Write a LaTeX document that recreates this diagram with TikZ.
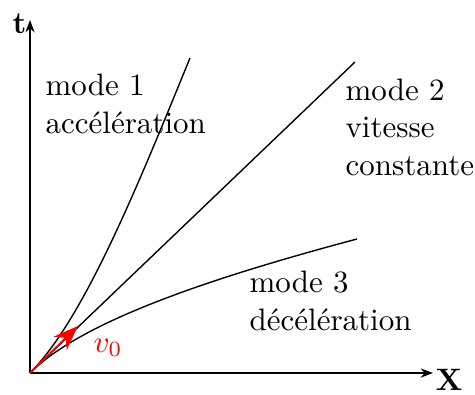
\documentclass[tikz,border=0pt]{standalone}
\usetikzlibrary{arrows.meta}
\begin{document}
\begin{tikzpicture}[x=0.3226pt,y=-0.3226pt,
  axis/.style={line width=0.45pt,-{Stealth[length=4pt,width=3pt]}},
  curve/.style={line width=0.45pt},
  lbl/.style={anchor=base west,inner sep=0pt,align=left}]
\useasboundingbox (0,0) rectangle (475,394);
\coordinate (O) at (30,373);
\coordinate (Ytop) at (30,20);
\coordinate (Xend) at (433,373);
\coordinate (E1) at (190,58);
\coordinate (E2) at (355,62);
\coordinate (E3) at (357,239);
\coordinate (V) at (78,326);
\draw[axis] (O) -- (Ytop);
\draw[axis] (O) -- (Xend);
\draw[curve] (O) .. controls (85,318) and (140,180) .. (E1);
\draw[curve] (O) -- (E2);
\draw[curve] (O) .. controls (75,328) and (180,286) .. (E3);
\draw[red,line width=0.6pt,-{Stealth[length=8pt,width=6pt,inset=2.5pt]}] (O) -- (V);
\node[lbl] (t) at (12,33) {\textbf{t}};
\node[lbl] (x) at (435,390) {\textbf{X}};
\node[lbl,text=red] (v0) at (93,352) {$v_0$};
\node[lbl] (m1) at (45,133) {mode 1\\acc\'el\'eration};
\node[lbl] (m2) at (345,175) {mode 2\\vitesse\\constante};
\node[lbl] (m3) at (249,330) {mode 3\\d\'ec\'el\'eration};
\end{tikzpicture}
\end{document}
